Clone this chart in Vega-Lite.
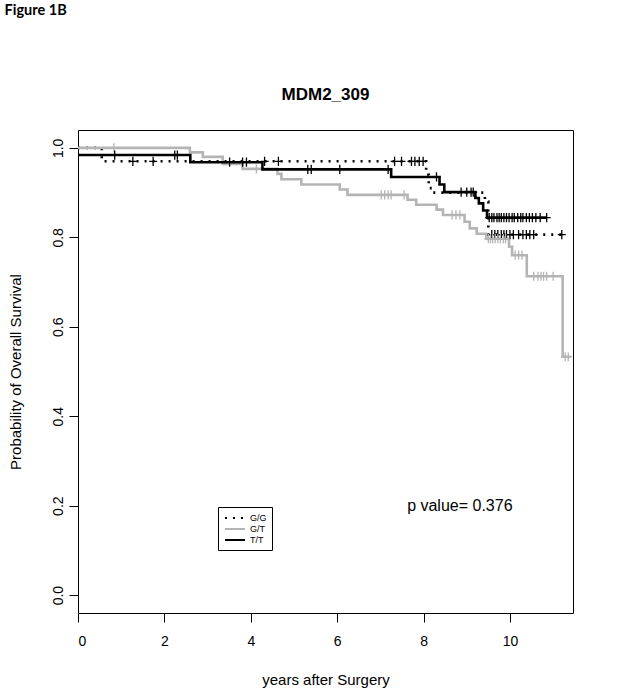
{
  "$schema": "https://vega.github.io/schema/vega-lite/v6.json",
  "autosize": {"type": "none"},
  "padding": {"left": 78, "top": 130, "right": 51, "bottom": 79},
  "width": 495,
  "height": 483,
  "background": "white",
  "config": {
    "view": {"stroke": "black", "strokeWidth": 1},
    "font": "Liberation Sans"
  },
  "datasets": {
    "curves": [
      {"g": "G/G", "t": 0, "s": 1.0}, {"g": "G/G", "t": 0.55, "s": 0.97}, {"g": "G/G", "t": 8.06, "s": 0.94}, {"g": "G/G", "t": 8.12, "s": 0.91}, {"g": "G/G", "t": 8.2, "s": 0.90}, {"g": "G/G", "t": 9.42, "s": 0.88}, {"g": "G/G", "t": 9.5, "s": 0.806}, {"g": "G/G", "t": 11.2, "s": 0.806},
      {"g": "G/T", "t": 0, "s": 1.0}, {"g": "G/T", "t": 2.59, "s": 0.99}, {"g": "G/T", "t": 2.89, "s": 0.98}, {"g": "G/T", "t": 3.35, "s": 0.964}, {"g": "G/T", "t": 3.81, "s": 0.953}, {"g": "G/T", "t": 4.62, "s": 0.942}, {"g": "G/T", "t": 4.71, "s": 0.93}, {"g": "G/T", "t": 5.17, "s": 0.918}, {"g": "G/T", "t": 6.06, "s": 0.907}, {"g": "G/T", "t": 6.24, "s": 0.895}, {"g": "G/T", "t": 7.63, "s": 0.884}, {"g": "G/T", "t": 7.83, "s": 0.873}, {"g": "G/T", "t": 8.3, "s": 0.862}, {"g": "G/T", "t": 8.45, "s": 0.85}, {"g": "G/T", "t": 8.95, "s": 0.835}, {"g": "G/T", "t": 9.07, "s": 0.82}, {"g": "G/T", "t": 9.23, "s": 0.808}, {"g": "G/T", "t": 9.45, "s": 0.797}, {"g": "G/T", "t": 9.98, "s": 0.779}, {"g": "G/T", "t": 10.05, "s": 0.76}, {"g": "G/T", "t": 10.39, "s": 0.713}, {"g": "G/T", "t": 11.22, "s": 0.533}, {"g": "G/T", "t": 11.4, "s": 0.533},
      {"g": "T/T", "t": 0, "s": 0.984}, {"g": "T/T", "t": 2.6, "s": 0.968}, {"g": "T/T", "t": 4.27, "s": 0.952}, {"g": "T/T", "t": 7.25, "s": 0.935}, {"g": "T/T", "t": 8.37, "s": 0.918}, {"g": "T/T", "t": 8.48, "s": 0.901}, {"g": "T/T", "t": 9.2, "s": 0.888}, {"g": "T/T", "t": 9.28, "s": 0.876}, {"g": "T/T", "t": 9.38, "s": 0.86}, {"g": "T/T", "t": 9.47, "s": 0.844}, {"g": "T/T", "t": 10.85, "s": 0.844}
    ],
    "cens": [
      {"g": "G/G", "t": 1.27, "s": 0.97}, {"g": "G/G", "t": 1.74, "s": 0.97}, {"g": "G/G", "t": 4.32, "s": 0.97}, {"g": "G/G", "t": 4.64, "s": 0.97}, {"g": "G/G", "t": 7.33, "s": 0.97}, {"g": "G/G", "t": 7.49, "s": 0.97}, {"g": "G/G", "t": 7.72, "s": 0.97}, {"g": "G/G", "t": 7.8, "s": 0.97}, {"g": "G/G", "t": 7.9, "s": 0.97}, {"g": "G/G", "t": 7.99, "s": 0.97},
      {"g": "G/G", "t": 9.58, "s": 0.806}, {"g": "G/G", "t": 9.65, "s": 0.806}, {"g": "G/G", "t": 9.72, "s": 0.806}, {"g": "G/G", "t": 9.8, "s": 0.806}, {"g": "G/G", "t": 9.86, "s": 0.806}, {"g": "G/G", "t": 9.92, "s": 0.806}, {"g": "G/G", "t": 10.0, "s": 0.806}, {"g": "G/G", "t": 10.08, "s": 0.806}, {"g": "G/G", "t": 10.2, "s": 0.806}, {"g": "G/G", "t": 10.3, "s": 0.806}, {"g": "G/G", "t": 10.38, "s": 0.806}, {"g": "G/G", "t": 10.46, "s": 0.806}, {"g": "G/G", "t": 10.55, "s": 0.806}, {"g": "G/G", "t": 11.2, "s": 0.806},
      {"g": "G/T", "t": 0.83, "s": 1.0}, {"g": "G/T", "t": 4.13, "s": 0.953},
      {"g": "G/T", "t": 7.02, "s": 0.895}, {"g": "G/T", "t": 7.1, "s": 0.895}, {"g": "G/T", "t": 7.18, "s": 0.895}, {"g": "G/T", "t": 7.25, "s": 0.895}, {"g": "G/T", "t": 7.55, "s": 0.895},
      {"g": "G/T", "t": 8.66, "s": 0.85}, {"g": "G/T", "t": 8.75, "s": 0.85}, {"g": "G/T", "t": 8.84, "s": 0.85},
      {"g": "G/T", "t": 9.5, "s": 0.797}, {"g": "G/T", "t": 9.55, "s": 0.797}, {"g": "G/T", "t": 9.6, "s": 0.797}, {"g": "G/T", "t": 9.66, "s": 0.797}, {"g": "G/T", "t": 9.72, "s": 0.797}, {"g": "G/T", "t": 9.78, "s": 0.797}, {"g": "G/T", "t": 9.85, "s": 0.797}, {"g": "G/T", "t": 9.9, "s": 0.797},
      {"g": "G/T", "t": 10.12, "s": 0.76}, {"g": "G/T", "t": 10.2, "s": 0.76}, {"g": "G/T", "t": 10.28, "s": 0.76},
      {"g": "G/T", "t": 10.55, "s": 0.713}, {"g": "G/T", "t": 10.65, "s": 0.713}, {"g": "G/T", "t": 10.72, "s": 0.713}, {"g": "G/T", "t": 10.78, "s": 0.713}, {"g": "G/T", "t": 10.85, "s": 0.713}, {"g": "G/T", "t": 11.0, "s": 0.713},
      {"g": "G/T", "t": 11.28, "s": 0.533}, {"g": "G/T", "t": 11.35, "s": 0.533},
      {"g": "T/T", "t": 0.85, "s": 0.984}, {"g": "T/T", "t": 2.24, "s": 0.984}, {"g": "T/T", "t": 2.3, "s": 0.984},
      {"g": "T/T", "t": 3.51, "s": 0.968}, {"g": "T/T", "t": 3.81, "s": 0.968}, {"g": "T/T", "t": 3.9, "s": 0.968},
      {"g": "T/T", "t": 5.32, "s": 0.952}, {"g": "T/T", "t": 5.4, "s": 0.952}, {"g": "T/T", "t": 6.06, "s": 0.952}, {"g": "T/T", "t": 7.18, "s": 0.952},
      {"g": "T/T", "t": 8.3, "s": 0.935},
      {"g": "T/T", "t": 8.87, "s": 0.901}, {"g": "T/T", "t": 9.0, "s": 0.901}, {"g": "T/T", "t": 9.1, "s": 0.901}, {"g": "T/T", "t": 9.15, "s": 0.901},
      {"g": "T/T", "t": 9.52, "s": 0.844}, {"g": "T/T", "t": 9.58, "s": 0.844}, {"g": "T/T", "t": 9.63, "s": 0.844}, {"g": "T/T", "t": 9.7, "s": 0.844}, {"g": "T/T", "t": 9.75, "s": 0.844}, {"g": "T/T", "t": 9.8, "s": 0.844}, {"g": "T/T", "t": 9.86, "s": 0.844}, {"g": "T/T", "t": 9.92, "s": 0.844}, {"g": "T/T", "t": 9.98, "s": 0.844}, {"g": "T/T", "t": 10.05, "s": 0.844}, {"g": "T/T", "t": 10.1, "s": 0.844}, {"g": "T/T", "t": 10.18, "s": 0.844}, {"g": "T/T", "t": 10.25, "s": 0.844}, {"g": "T/T", "t": 10.3, "s": 0.844}, {"g": "T/T", "t": 10.38, "s": 0.844}, {"g": "T/T", "t": 10.45, "s": 0.844}, {"g": "T/T", "t": 10.52, "s": 0.844}, {"g": "T/T", "t": 10.6, "s": 0.844}, {"g": "T/T", "t": 10.7, "s": 0.844}, {"g": "T/T", "t": 10.85, "s": 0.844}
    ],
    "notes": [{"label": "p value= 0.376"}],
    "fig": [{"label": "Figure 1B"}],
    "ttl": [{"label": "MDM2_309"}]
  },
  "layer": [
    {
      "data": {"name": "curves"},
      "mark": {"type": "line", "interpolate": "step-after", "strokeWidth": 2.6, "strokeCap": "butt"},
      "encoding": {
        "x": {"field": "t", "type": "quantitative", "scale": {"domain": [0, 11.46], "nice": false, "zero": false},
          "axis": {"values": [0, 2, 4, 6, 8, 10], "grid": false, "domain": false, "tickColor": "black", "tickSize": 9, "labelFontSize": 14, "labelColor": "black", "labelPadding": 12, "title": "years after Surgery", "titleFontSize": 15, "titleFontWeight": "normal", "titleColor": "black", "titlePadding": 24}},
        "y": {"field": "s", "type": "quantitative", "scale": {"domain": [-0.04, 1.04], "nice": false, "zero": false},
          "axis": {"values": [0, 0.2, 0.4, 0.6, 0.8, 1.0], "format": ".1f", "grid": false, "domain": false, "tickColor": "black", "tickSize": 9, "labelFontSize": 14, "labelColor": "black", "labelAngle": -90, "labelAlign": "center", "labelBaseline": "bottom", "labelPadding": 4, "title": "Probability of Overall Survival", "titleFontSize": 15, "titleFontWeight": "normal", "titleColor": "black", "titlePadding": 28}},
        "color": {"field": "g", "type": "nominal", "scale": {"domain": ["G/G", "G/T", "T/T"], "range": ["#000000", "#b4b4b4", "#000000"]},
          "legend": {"orient": "none", "legendX": 140, "legendY": 377, "title": null, "strokeColor": "black", "padding": 5, "symbolType": "M-2,0L2,0", "symbolSize": 100, "symbolStrokeWidth": 2, "labelFontSize": 9, "labelColor": "black", "labelOffset": 9, "rowPadding": 0, "symbolOffset": 6}},
        "strokeDash": {"field": "g", "type": "nominal", "scale": {"domain": ["G/G", "G/T", "T/T"], "range": [[2, 6], [1, 0], [1, 0]]}}
      }
    },
    {
      "data": {"name": "cens"},
      "mark": {"type": "point", "shape": "M-1,0L1,0M0,-1.15L0,1.15", "size": 64, "filled": false, "strokeWidth": 1.3, "opacity": 1},
      "encoding": {
        "x": {"field": "t", "type": "quantitative"},
        "y": {"field": "s", "type": "quantitative"},
        "stroke": {"field": "g", "type": "nominal", "scale": {"domain": ["G/G", "G/T", "T/T"], "range": ["#000000", "#b4b4b4", "#000000"]}, "legend": null}
      }
    },
    {
      "data": {"name": "notes"},
      "mark": {"type": "text", "fontSize": 16, "align": "center", "baseline": "middle", "fill": "black"},
      "encoding": {"text": {"field": "label", "type": "nominal"}, "x": {"datum": 8.84, "type": "quantitative"}, "y": {"datum": 0.2, "type": "quantitative"}}
    },
    {
      "data": {"name": "ttl"},
      "mark": {"type": "text", "fontSize": 17, "fontWeight": "bold", "align": "center", "baseline": "middle", "fill": "black"},
      "encoding": {"text": {"field": "label", "type": "nominal"}, "x": {"datum": 5.73, "type": "quantitative"}, "y": {"datum": 1.118, "type": "quantitative"}}
    },
    {
      "data": {"name": "fig"},
      "mark": {"type": "text", "fontSize": 14.5, "font": "Lato", "fontWeight": "bold", "align": "left", "baseline": "middle", "fill": "black"},
      "encoding": {"text": {"field": "label", "type": "nominal"}, "x": {"datum": -1.7, "type": "quantitative"}, "y": {"datum": 1.305, "type": "quantitative"}}
    }
  ]
}
